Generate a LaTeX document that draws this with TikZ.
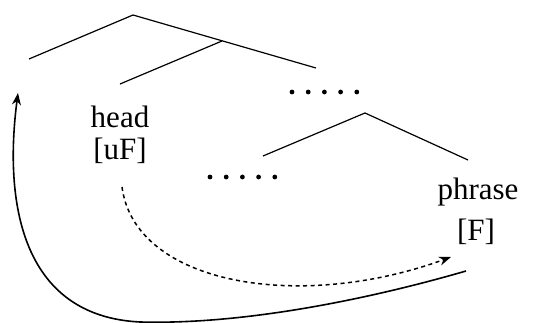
\documentclass[tikz,border=0pt]{standalone}
\usepackage{fontspec}
\setmainfont{Liberation Serif}
\usetikzlibrary{arrows.meta}
\begin{document}
\begin{tikzpicture}[x=1pt,y=-1pt,
  branch/.style={line width=1.2pt},
  lbl/.style={font=\fontsize{31}{36}\selectfont, inner sep=0pt},
  dotrow/.style={fill=black},
  movearrow/.style={line width=1.6pt,-{Stealth[length=12pt,width=9pt]}},
  agreearrow/.style={line width=1.5pt,dash pattern=on 4pt off 3.5pt,-{Stealth[length=12pt,width=9pt]}}]
\useasboundingbox (0,0) rectangle (547,323);
% upper tree
\coordinate (top) at (133,15);
\coordinate (topL) at (29,59);
\coordinate (topR) at (316,68);
\coordinate (mid) at (222,41);
\coordinate (midL) at (120,84);
\draw[branch] (topL) -- (top) -- (topR);
\draw[branch] (midL) -- (mid);
% lower tree
\coordinate (low) at (365,113);
\coordinate (lowL) at (263,156);
\coordinate (lowR) at (468,160);
\draw[branch] (lowL) -- (low) -- (lowR);
% dots
\foreach \i in {0,...,4} {
  \fill[dotrow] (292+16.2*\i,92) circle (2.4);
  \fill[dotrow] (210+16.2*\i,177) circle (2.4);
}
% labels
\node[lbl] (head) at (120,117) {head};
\node[lbl] (uf) at (120,151) {[uF]};
\node[lbl] (phrase) at (478,192) {phrase};
\node[lbl] (f) at (476,232) {[F]};
% arrows
\coordinate (dstart) at (122,187);
\coordinate (dend) at (451,257);
\draw[agreearrow] (dstart) .. controls (135,285) and (300,312) .. (dend);
\coordinate (sstart) at (466,271);
\coordinate (sbot) at (140,322);
\coordinate (send) at (18,93);
\draw[movearrow] (sstart) .. controls (380,296) and (250,325) .. (sbot)
  .. controls (20,316) and (4,200) .. (send);
\end{tikzpicture}
\end{document}
